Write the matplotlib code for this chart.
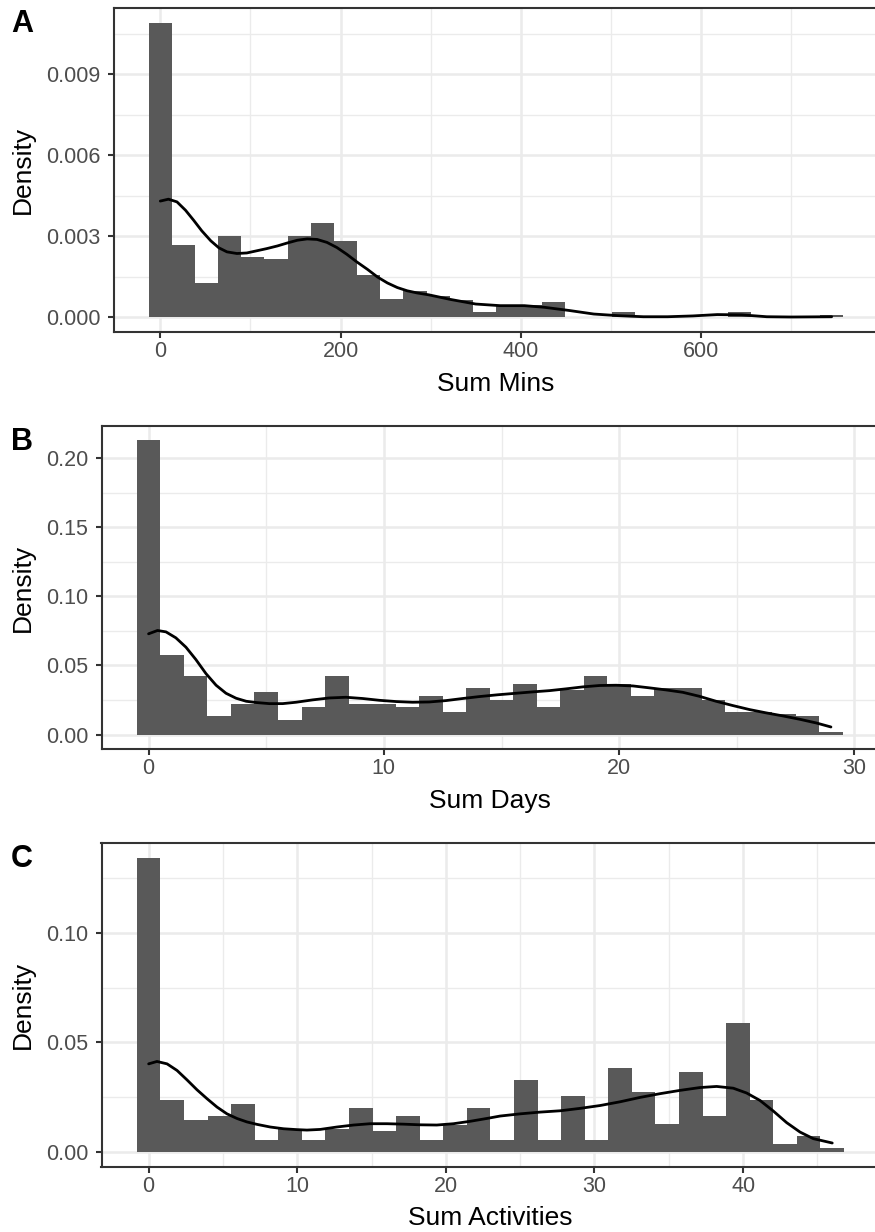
import matplotlib
matplotlib.use("Agg")
import matplotlib.pyplot as plt
import numpy as np
from matplotlib.ticker import FixedLocator, FixedFormatter

plt.rcParams['font.family'] = ['Liberation Sans', 'DejaVu Sans']

# ---------------- data ----------------
# Panel A: Sum Mins
mins_bin_width = 25.69
mins_density = [0.0109, 0.00269, 0.00125, 0.00300, 0.00223, 0.00214, 0.00300, 0.00348,
                0.00281, 0.00156, 0.00068, 0.00098, 0.00078, 0.00064, 0.00019, 0.00046,
                0.00046, 0.00056, 0.0, 0.0, 0.00019, 0.0, 0.0, 0.0, 0.0, 0.00019, 0.0,
                0.0, 0.0, 0.00009]
mins_curve_x = [0, 9, 18.5, 28, 37, 46, 56, 65, 74, 85, 96, 107, 118, 130, 141, 152, 163,
                174, 185, 196, 207, 218, 230, 241, 252, 263, 274, 285, 298, 322, 350, 377,
                404, 426, 454, 481, 508, 536, 563, 591, 618, 645, 673, 700, 745]
mins_curve_y = [0.00430, 0.00437, 0.00427, 0.00396, 0.00359, 0.00320, 0.00283, 0.00257,
                0.00242, 0.00236, 0.00238, 0.00246, 0.00254, 0.00264, 0.00275, 0.00285,
                0.00290, 0.00288, 0.00277, 0.00258, 0.00233, 0.00205, 0.00177, 0.00149,
                0.00127, 0.00110, 0.00098, 0.00090, 0.00083, 0.00066, 0.00049, 0.00043,
                0.00043, 0.00037, 0.00025, 0.00012, 0.00006, 0.00002, 0.00002, 0.00005,
                0.00010, 0.00009, 0.00002, 0.00001, 0.00002]
mins_xticks = [0, 200, 400, 600]
mins_xminor = [100, 300, 500, 700]
mins_yticks = [0.0, 0.003, 0.006, 0.009]
mins_yminor = [0.0015, 0.0045, 0.0075, 0.0105]
mins_ylabels = ["0.000", "0.003", "0.006", "0.009"]

# Panel B: Sum Days
days_bin_width = 1.0
days_density = [0.2128, 0.0574, 0.0427, 0.0138, 0.0224, 0.0309, 0.0109, 0.0200, 0.0427,
                0.0224, 0.0224, 0.0200, 0.0282, 0.0164, 0.0338, 0.0251, 0.0369, 0.0200,
                0.0321, 0.0427, 0.0369, 0.0282, 0.0338, 0.0338, 0.0253, 0.0164, 0.0164,
                0.0150, 0.0138, 0.0017]
days_curve_x = [0, 0.38, 0.74, 1.16, 1.59, 2.01, 2.44, 2.87, 3.29, 3.72, 4.15, 4.57, 5.13,
                5.70, 6.27, 6.97, 7.68, 8.39, 9.10, 9.81, 10.52, 11.22, 11.93, 12.64, 13.35,
                14.06, 14.84, 15.62, 16.33, 17.04, 17.75, 18.45, 19.16, 19.87, 20.58, 21.29,
                22.0, 22.7, 23.41, 24.12, 24.83, 25.54, 26.25, 26.96, 27.67, 28.38, 29.0]
days_curve_y = [0.0729, 0.0753, 0.0743, 0.0700, 0.0632, 0.0543, 0.0441, 0.0357, 0.0299,
                0.0263, 0.0241, 0.0232, 0.0224, 0.0224, 0.0234, 0.0251, 0.0265, 0.0270,
                0.0261, 0.0248, 0.0239, 0.0234, 0.0236, 0.0246, 0.0261, 0.0275, 0.0288,
                0.0299, 0.0309, 0.0318, 0.0331, 0.0345, 0.0355, 0.0357, 0.0352, 0.0338,
                0.0323, 0.0306, 0.0277, 0.0241, 0.0210, 0.0181, 0.0157, 0.0135, 0.0111,
                0.0084, 0.0055]
days_xticks = [0, 10, 20, 30]
days_xminor = [5, 15, 25]
days_yticks = [0.0, 0.05, 0.10, 0.15, 0.20]
days_yminor = [0.025, 0.075, 0.125, 0.175]
days_ylabels = ["0.00", "0.05", "0.10", "0.15", "0.20"]

# Panel C: Sum Activities
act_bin_width = 46 / 29
act_density = [0.1341, 0.0238, 0.0146, 0.0164, 0.0220, 0.0053, 0.0106, 0.0053, 0.0106,
               0.0202, 0.0094, 0.0162, 0.0053, 0.0121, 0.0202, 0.0053, 0.0329, 0.0053,
               0.0255, 0.0053, 0.0385, 0.0272, 0.0127, 0.0364, 0.0164, 0.0589, 0.0238,
               0.0036, 0.0071, 0.0017]
act_curve_x = [0, 0.56, 1.24, 1.91, 2.58, 3.25, 3.93, 4.60, 5.27, 5.94, 6.62, 7.29, 8.18,
               9.08, 9.98, 10.65, 11.55, 12.67, 13.79, 14.91, 16.03, 17.15, 18.27, 19.39,
               20.51, 21.63, 22.76, 23.65, 25.0, 26.34, 27.69, 29.03, 30.38, 31.72, 33.07,
               34.41, 35.75, 37.10, 38.22, 39.34, 40.24, 41.14, 42.03, 42.93, 43.83, 44.72,
               46.0]
act_curve_y = [0.0402, 0.0413, 0.0402, 0.0372, 0.0329, 0.0284, 0.0243, 0.0205, 0.0174,
               0.0153, 0.0137, 0.0126, 0.0114, 0.0106, 0.0102, 0.0100, 0.0103, 0.0114,
               0.0123, 0.0129, 0.0129, 0.0127, 0.0124, 0.0123, 0.0129, 0.0140, 0.0153,
               0.0164, 0.0174, 0.0182, 0.0188, 0.0199, 0.0212, 0.0229, 0.0249, 0.0266,
               0.0281, 0.0294, 0.0299, 0.0291, 0.0269, 0.0235, 0.0187, 0.0134, 0.0091,
               0.0061, 0.0041]
act_xticks = [0, 10, 20, 30, 40]
act_xminor = [5, 15, 25, 35, 45]
act_yticks = [0.0, 0.05, 0.10]
act_yminor = [0.025, 0.075, 0.125]
act_ylabels = ["0.00", "0.05", "0.10"]

panel_letters = ["A", "B", "C"]
x_titles = ["Sum Mins", "Sum Days", "Sum Activities"]
y_title = "Density"

# ---------------- layout (pixels) ----------------
W, H = 875, 1232
fig = plt.figure(figsize=(W / 100, H / 100), dpi=100)

def px_rect(left, right, top, bottom):
    return [left / W, 1 - bottom / H, (right - left) / W, (bottom - top) / H]

panels = [
    dict(rect=px_rect(114, 878, 8, 332), w=mins_bin_width, dens=mins_density,
         cx=mins_curve_x, cy=mins_curve_y, xt=mins_xticks, xm=mins_xminor,
         yt=mins_yticks, ym=mins_yminor, yl=mins_ylabels, top=8, bottom=332),
    dict(rect=px_rect(101.5, 878, 425.7, 749.3), w=days_bin_width, dens=days_density,
         cx=days_curve_x, cy=days_curve_y, xt=days_xticks, xm=days_xminor,
         yt=days_yticks, ym=days_yminor, yl=days_ylabels, top=425.7, bottom=749.3),
    dict(rect=px_rect(101.5, 879.4, 843.3, 1166.7), w=act_bin_width, dens=act_density,
         cx=act_curve_x, cy=act_curve_y, xt=act_xticks, xm=act_xminor,
         yt=act_yticks, ym=act_yminor, yl=act_ylabels, top=843.3, bottom=1166.7),
]

for i, p in enumerate(panels):
    ax = fig.add_axes(p["rect"])
    w = p["w"]
    n = len(p["dens"])
    centers = np.arange(n) * w
    ax.bar(centers, p["dens"], width=w, color="#595959", linewidth=0, align="center", zorder=1)
    ax.plot(p["cx"], p["cy"], color="black", lw=2.0, solid_joinstyle="round",
            solid_capstyle="round", zorder=3)

    ymax = max(p["dens"])
    ax.set_ylim(-0.05 * ymax, 1.05 * ymax)
    ax.set_xlim(-2 * w, (n + 1) * w)

    ax.xaxis.set_major_locator(FixedLocator(p["xt"]))
    ax.xaxis.set_minor_locator(FixedLocator(p["xm"]))
    ax.yaxis.set_major_locator(FixedLocator(p["yt"]))
    ax.yaxis.set_minor_locator(FixedLocator(p["ym"]))
    ax.yaxis.set_major_formatter(FixedFormatter(p["yl"]))
    ax.xaxis.set_major_formatter(FixedFormatter([str(v) for v in p["xt"]]))

    ax.set_axisbelow(True)
    ax.grid(which="major", color="#EBEBEB", linewidth=1.8)
    ax.grid(which="minor", color="#EBEBEB", linewidth=0.95)
    for s in ax.spines.values():
        s.set_color("#333333")
        s.set_linewidth(1.5)
        s.set_zorder(4)
    ax.tick_params(which="major", length=4.5, width=1.5, color="#333333",
                   labelsize=15.5, labelcolor="#4D4D4D")
    ax.tick_params(which="minor", length=0)
    ax.tick_params(axis="x", pad=2)
    ax.tick_params(axis="y", pad=5)

    off = p["top"] - 8
    # panel letter
    fig.text(11 / W, 1 - (32 + off) / H, panel_letters[i], fontsize=22, fontweight="bold",
             ha="left", va="baseline", color="black")
    # y title
    fig.text(22.5 / W, 1 - ((p["top"] + p["bottom"]) / 2) / H, y_title, rotation=90,
             fontsize=19, ha="center", va="center", color="black")
    # x title
    left_px = p["rect"][0] * W
    right_px = (p["rect"][0] + p["rect"][2]) * W
    fig.text(((left_px + right_px) / 2) / W, 1 - (p["bottom"] + 58.7) / H, x_titles[i],
             fontsize=19, ha="center", va="baseline", color="black")

fig.savefig("out.png", dpi=100, facecolor="white")
